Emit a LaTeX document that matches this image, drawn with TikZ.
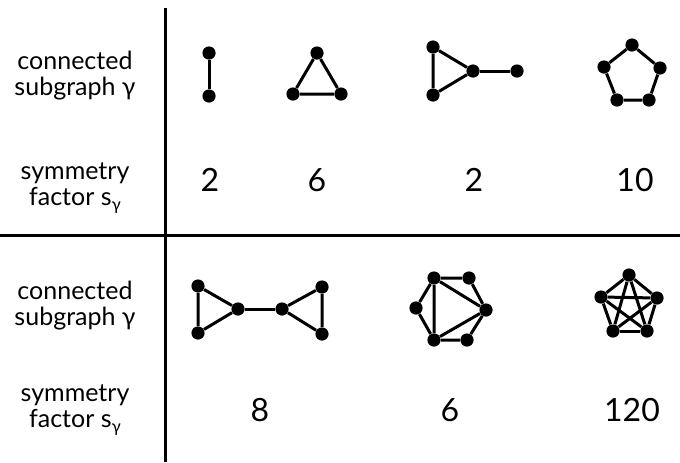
\documentclass[tikz,border=0pt]{standalone}
\usepackage{fontspec}
\setmainfont{Lato}
\newcommand{\sgam}{s\raisebox{-0.35ex}{\fontsize{8.5}{8.5}\selectfont γ}}
\tikzset{
    vertex/.style={circle, fill=black, inner sep=0pt, minimum size=6.6pt},
    edge/.style={line width=1.5pt},
    rowlabel/.style={align=center, font=\fontsize{12.5}{12.5}\selectfont},
    factor/.style={font=\fontsize{16}{16}\selectfont}
}
\begin{document}
\begin{tikzpicture}[x=0.5pt, y=-0.5pt]
    \useasboundingbox (0,0) rectangle (680,462);

    % table lines
    \coordinate (vtop) at (165,8);
    \coordinate (vbot) at (165,462);
    \coordinate (hleft) at (0,235);
    \coordinate (hright) at (680,235);
    \draw[line width=1.5pt] (vtop) -- (vbot);
    \draw[line width=1.5pt] (hleft) -- (hright);

    % row labels
    \node[rowlabel] (conn1) at (75,76) {connected\\[0.5pt]subgraph γ};
    \node[rowlabel] (sym1) at (75,188) {symmetry\\[0.5pt]factor \sgam};
    \node[rowlabel] (conn2) at (75,306) {connected\\[0.5pt]subgraph γ};
    \node[rowlabel] (sym2) at (75,410) {symmetry\\[0.5pt]factor \sgam};

    % single edge
    \node[vertex] (a1) at (209,53) {};
    \node[vertex] (a2) at (209,96) {};
    \draw[edge] (a1) -- (a2);

    % triangle
    \node[vertex] (b1) at (317,53) {};
    \node[vertex] (b2) at (293,94) {};
    \node[vertex] (b3) at (341,94) {};
    \draw[edge] (b1) -- (b2) -- (b3) -- (b1);

    % triangle with tail
    \node[vertex] (c1) at (433,47) {};
    \node[vertex] (c2) at (433,95) {};
    \node[vertex] (c3) at (473,71) {};
    \node[vertex] (c4) at (517,71) {};
    \draw[edge] (c1) -- (c2) -- (c3) -- (c1);
    \draw[edge] (c3) -- (c4);

    % pentagon
    \node[vertex] (d1) at (632,45) {};
    \node[vertex] (d2) at (660,68) {};
    \node[vertex] (d3) at (649,100) {};
    \node[vertex] (d4) at (617,100) {};
    \node[vertex] (d5) at (604,67) {};
    \draw[edge] (d1) -- (d2) -- (d3) -- (d4) -- (d5) -- (d1);

    % factors, upper row
    \node[factor] (fa) at (210,180) {2};
    \node[factor] (fb) at (317,180) {6};
    \node[factor] (fc) at (474,180) {2};
    \node[factor] (fd) at (635,180) {10};

    % two triangles joined
    \node[vertex] (e1) at (198,286) {};
    \node[vertex] (e2) at (198,333) {};
    \node[vertex] (e3) at (238,309) {};
    \node[vertex] (e4) at (282,309) {};
    \node[vertex] (e5) at (322,287) {};
    \node[vertex] (e6) at (322,334) {};
    \draw[edge] (e1) -- (e2) -- (e3) -- (e1);
    \draw[edge] (e3) -- (e4);
    \draw[edge] (e5) -- (e6) -- (e4) -- (e5);

    % hexagon with chords
    \node[vertex] (g1) at (434,278) {};
    \node[vertex] (g2) at (469,278) {};
    \node[vertex] (g3) at (486,310) {};
    \node[vertex] (g4) at (467,340) {};
    \node[vertex] (g5) at (434,340) {};
    \node[vertex] (g6) at (416,308) {};
    \draw[edge] (g1) -- (g2) -- (g3) -- (g4) -- (g5) -- (g6) -- (g1);
    \draw[edge] (g1) -- (g5) -- (g3) -- (g1);

    % complete graph on five vertices
    \node[vertex] (k1) at (629,275) {};
    \node[vertex] (k2) at (657,298) {};
    \node[vertex] (k3) at (647,331) {};
    \node[vertex] (k4) at (613,331) {};
    \node[vertex] (k5) at (601,297) {};
    \foreach \i [evaluate=\i as \n using int(\i+1)] in {1,...,4}
        \foreach \j in {\n,...,5}
            \draw[edge] (k\i) -- (k\j);

    % factors, lower row
    \node[factor] (fe) at (260,410) {8};
    \node[factor] (fg) at (450,410) {6};
    \node[factor] (fk) at (632,410) {120};
\end{tikzpicture}
\end{document}
